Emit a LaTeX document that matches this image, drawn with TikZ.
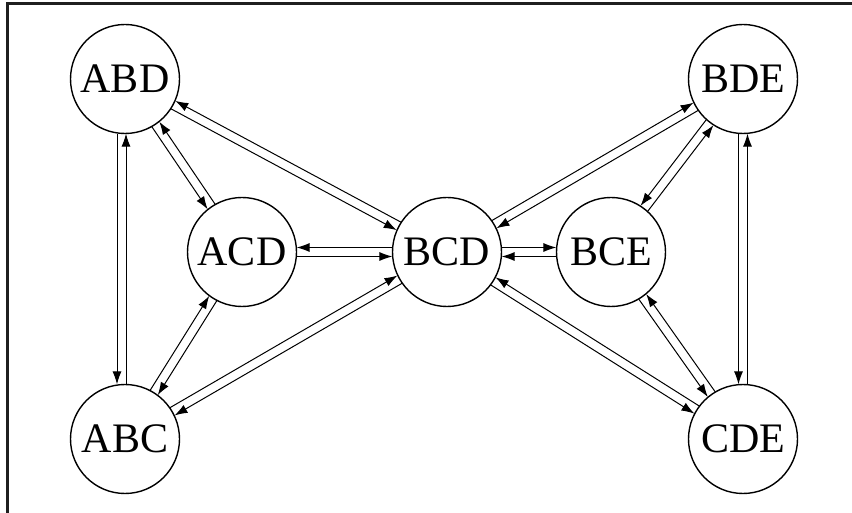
\documentclass[tikz,border=0pt]{standalone}
\usepackage{fontspec}
\setmainfont{Liberation Serif}
\usetikzlibrary{calc,arrows.meta}
\tikzset{
  st/.style={circle, draw, line width=1.4pt, minimum size=109pt, inner sep=0pt, font=\fontsize{42}{42}\selectfont},
  ed/.style={line width=1pt, -{Latex[length=13pt,width=9pt]}, shorten <=54.6pt, shorten >=54.6pt},
  frm/.style={line width=2.6pt, draw=black!88}
}
\newcommand\dedge[4][4.5pt]{\draw[ed] ($(#2)!#1!#4:(#3)$) -- ($(#3)!#1!-#4:(#2)$);}
\begin{document}
\begin{tikzpicture}[x=1pt,y=1pt]
\useasboundingbox (0,0) rectangle (852,512);
\clip (0,0) rectangle (852,512);
\draw[frm] (7.3,-50) rectangle (900,508.7);
\node[st] (ABD) at (125,433) {ABD};
\node[st] (ABC) at (125,73) {ABC};
\node[st] (BDE) at (743,433) {BDE};
\node[st] (CDE) at (743,73) {CDE};
\node[st] (ACD) at (242,260) {ACD};
\node[st] (BCD) at (447,260) {BCD};
\node[st] (BCE) at (611,260) {BCE};
% right of travel = -90, left = 90
\dedge[8pt]{ABD}{ABC}{-90}
\dedge[1pt]{ABC}{ABD}{-90}
\dedge{ABD}{ACD}{-90}
\dedge{ACD}{ABD}{-90}
\dedge{BCD}{ABD}{-90}
\dedge{ABD}{BCD}{-90}
\dedge{BCD}{ACD}{-90}
\dedge{ACD}{BCD}{-90}
\dedge{BDE}{BCE}{-90}
\dedge{BCE}{BDE}{-90}
\dedge{BCE}{CDE}{-90}
\dedge{CDE}{BCE}{-90}
\dedge{BCD}{CDE}{-90}
\dedge{CDE}{BCD}{-90}
\dedge{BDE}{CDE}{-90}
\dedge{CDE}{BDE}{-90}
\dedge{ABC}{ACD}{90}
\dedge{ACD}{ABC}{90}
\dedge{ABC}{BCD}{90}
\dedge{BCD}{ABC}{90}
\dedge{BCD}{BCE}{90}
\dedge{BCE}{BCD}{90}
\dedge{BCD}{BDE}{90}
\dedge{BDE}{BCD}{90}
\end{tikzpicture}
\end{document}
